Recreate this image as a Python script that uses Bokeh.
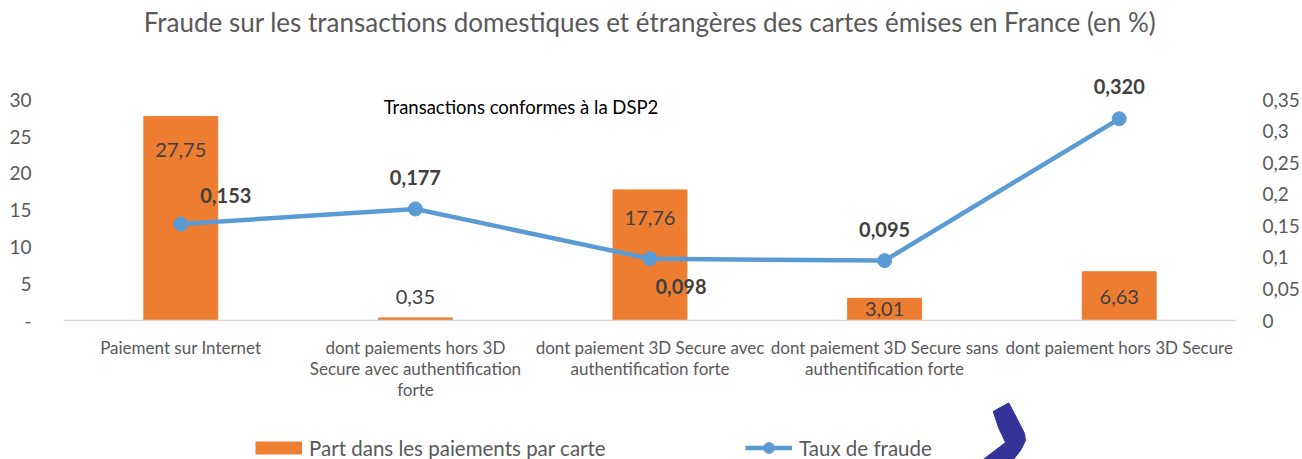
from bokeh.plotting import figure
from bokeh.layouts import column
from bokeh.models import (Range1d, LinearAxis, FixedTicker, Legend, LegendItem,
                          ColumnDataSource)
from bokeh.core.properties import value
from bokeh.embed import file_html
from bokeh.resources import INLINE

# ---------------- data ----------------
categories = [
    "Paiement sur Internet",
    "dont paiements hors 3D\nSecure avec authentification\nforte",
    "dont paiement 3D Secure avec\nauthentification forte",
    "dont paiement 3D Secure sans\nauthentification forte",
    "dont paiement hors 3D Secure",
]
part_paiements = [27.75, 0.35, 17.76, 3.01, 6.63]
taux_fraude = [0.153, 0.177, 0.098, 0.095, 0.320]
part_labels = ["27,75", "0,35", "17,76", "3,01", "6,63"]
taux_labels = ["0,153", "0,177", "0,098", "0,095", "0,320"]
left_ticks = [0, 5, 10, 15, 20, 25, 30]
left_tick_labels = ["-", "5", "10", "15", "20", "25", "30"]
right_ticks = [0, 0.05, 0.1, 0.15, 0.2, 0.25, 0.3, 0.35]
right_tick_labels = ["0", "0,05", "0,1", "0,15", "0,2", "0,25", "0,3", "0,35"]
series_names = ["Part dans les paiements par carte", "Taux de fraude"]
title_text = "Fraude sur les transactions domestiques et étrangères des cartes émises en France (en %)"
note_text = "Transactions conformes à la DSP2"

# ---------------- style ----------------
FONT = "Lato"
GREY = "#595959"
DARK = "#404040"
ORANGE = "#ED7D31"
BLUE = "#5B9BD5"
NAVY = "#33339A"

# label offsets in px (style, not data)
part_dy = [34, -21, 28, 11, 25]
taux_dx = [45, 0, 31, 0, 0]
taux_dy = [-29, -31, 28, -31, -32]

W = 1302
H_MAIN = 402
H_LEG = 459 - H_MAIN
FRAME_L, FRAME_R = 63, 1236
LEFT_END = 42.43
RIGHT_END = 0.35 / 30 * LEFT_END

x = list(range(len(categories)))

p = figure(width=W, height=H_MAIN, output_backend="svg", toolbar_location=None,
           x_range=Range1d(-0.5, len(categories) - 0.5),
           y_range=Range1d(0, LEFT_END),
           min_border_left=FRAME_L, min_border_right=W - FRAME_R, min_border_top=8,
           min_border_bottom=H_MAIN - 322, outline_line_color=None)
p.extra_y_ranges = {"right": Range1d(0, RIGHT_END)}
p.xgrid.visible = False
p.ygrid.visible = False

# x axis
xa = p.xaxis[0]
xa.ticker = FixedTicker(ticks=x)
xa.major_label_overrides = {i: c for i, c in enumerate(categories)}
xa.axis_line_color = "#D9D9D9"
xa.axis_line_width = 1.5
xa.major_tick_line_color = None
xa.minor_tick_line_color = None
xa.major_label_text_font = FONT
xa.major_label_text_font_size = "17px"
xa.major_label_text_line_height = 1.0
xa.major_label_text_color = GREY
xa.major_label_standoff = 10

# left axis
ya = p.yaxis[0]
ya.ticker = FixedTicker(ticks=left_ticks)
ya.major_label_overrides = dict(zip(left_ticks, left_tick_labels))
ya.axis_line_color = None
ya.major_tick_line_color = None
ya.minor_tick_line_color = None
ya.major_label_text_font = FONT
ya.major_label_text_font_size = "19px"
ya.major_label_text_color = GREY
ya.major_label_standoff = 26

# right axis
ra = LinearAxis(y_range_name="right", ticker=FixedTicker(ticks=right_ticks))
ra.major_label_overrides = dict(zip(right_ticks, right_tick_labels))
ra.axis_line_color = None
ra.major_tick_line_color = None
ra.minor_tick_line_color = None
ra.major_label_text_font = FONT
ra.major_label_text_font_size = "19px"
ra.major_label_text_color = GREY
ra.major_label_standoff = 20
p.add_layout(ra, "right")

src = ColumnDataSource(dict(x=x, part=part_paiements, taux=taux_fraude,
                            pl=part_labels, tl=taux_labels,
                            pdy=part_dy, tdx=taux_dx, tdy=taux_dy))

p.vbar(x="x", top="part", width=0.315, color=ORANGE, source=src)
p.line(x="x", y="taux", y_range_name="right", line_width=4.5, color=BLUE, source=src)
p.scatter(x="x", y="taux", y_range_name="right", size=14, color=BLUE, source=src)

p.text(x="x", y="part", text="pl", y_offset="pdy", source=src,
       text_align="center", text_baseline="middle", text_font=value(FONT),
       text_font_size="20px", text_color=DARK)
p.text(x="x", y="taux", text="tl", x_offset="tdx", y_offset="tdy",
       y_range_name="right", source=src,
       text_align="center", text_baseline="middle", text_font=value(FONT),
       text_font_size="20px", text_font_style="bold", text_color=DARK)

# title and note
p.text(x=[2], y=[40.54], text=[title_text], text_align="center",
       text_baseline="middle", text_font=value(FONT), text_font_size="26px",
       text_color=GREY)
p.text(x=[1.45], y=[29.05], text=[note_text], text_align="center",
       text_baseline="middle", text_font=value(FONT), text_font_size="18.5px",
       text_color="#000000")

# ---------------- legend strip (frame aligned with the main plot) ----------------
q = figure(width=W, height=H_LEG, output_backend="svg", toolbar_location=None,
           x_range=Range1d(FRAME_L, FRAME_R), y_range=Range1d(459, H_MAIN),
           x_axis_location=None, y_axis_location=None,
           min_border_left=FRAME_L, min_border_right=W - FRAME_R, min_border_top=0,
           min_border_bottom=0, outline_line_color=None)
q.xgrid.visible = False
q.ygrid.visible = False
# legend proxies placed outside the visible x range (clipped away)
proxy = ColumnDataSource(dict(x=[0], y=[430]))
lb = q.line(x="x", y="y", line_width=13, line_cap="butt", color=ORANGE, source=proxy)
ll = q.line(x="x", y="y", line_width=4.5, color=BLUE, source=proxy)
ls = q.scatter(x="x", y="y", size=13, color=BLUE, source=proxy)

legend = Legend(items=[LegendItem(label=series_names[0], renderers=[lb]),
                       LegendItem(label=series_names[1], renderers=[ll, ls])],
                orientation="horizontal", location=(255 - FRAME_L, -2),
                glyph_width=47, glyph_height=27, label_standoff=7,
                label_width=436, spacing=0, padding=0, margin=0,
                border_line_color=None, background_fill_alpha=0,
                label_text_font=FONT, label_text_font_size="20.5px",
                label_text_color=GREY)
q.add_layout(legend)

# decorative logo fragment (bottom right), in page pixels
q.patch(x=[992.7, 1008.3, 1020, 1024, 1025, 1020, 1013, 982.7, 1005, 998],
        y=[411, 402.3, 425, 433, 440, 450, 459, 459, 442, 427],
        fill_color=NAVY, line_color=NAVY, line_width=1)

layout = column(p, q, spacing=0)
open("out.html", "w").write(file_html(layout, INLINE))
